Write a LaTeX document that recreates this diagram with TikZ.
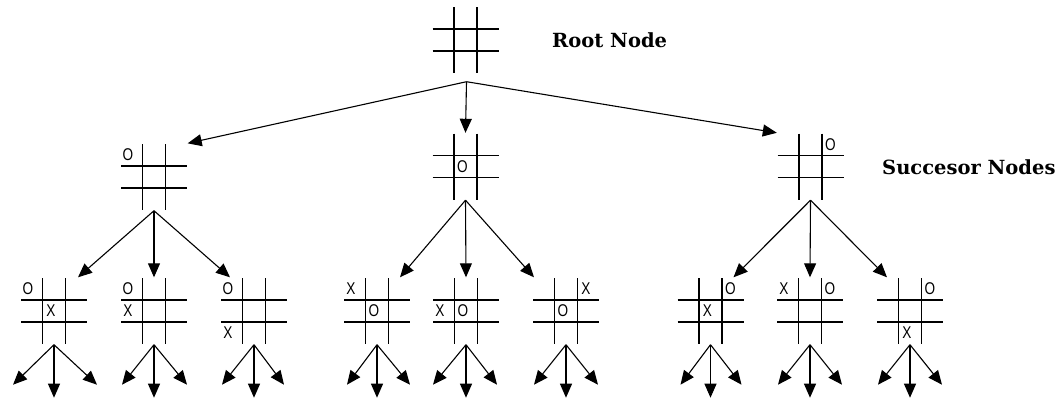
\documentclass[tikz,border=0pt]{standalone}
\usepackage{fontspec}
\setmainfont{DejaVu Serif}
\newfontfamily\markfont{Liberation Sans}
\usetikzlibrary{arrows.meta,calc}

% tic-tac-toe board lines around a named board node
\newcommand\tttgrid[1]{%
  \begin{scope}[shift={(#1.center)}]
    \draw[gridline] (-11.5,-33) -- (-11.5,33) (11.5,-33) -- (11.5,33)
                    (-33,-11) -- (33,-11) (-33,11) -- (33,11);
  \end{scope}}
% a symbol in a cell: name, board, column offset, row offset, symbol
\newcommand\tttmark[5]{\node[cellmark] (#1) at ($(#2.center)+(#3,#4)$) {#5};}
\def\cL{-26}\def\cC{-3}\def\cR{20}
\def\rT{-22}\def\rM{0}\def\rB{22}

\begin{document}
\begin{tikzpicture}[x=1pt,y=-1pt,
  board/.style={minimum width=67pt,minimum height=67pt,inner sep=0pt,draw=none},
  gridline/.style={line width=1.6pt,black},
  link/.style={line width=1.1pt,-{Triangle[length=14pt,width=12pt]}},
  cellmark/.style={font=\markfont\fontsize{17}{17}\selectfont,inner sep=0pt,xscale=0.8,transform shape},
  caption/.style={font=\bfseries\fontsize{19.5}{19.5}\selectfont,anchor=west,inner sep=0pt}
]
\useasboundingbox (0,0) rectangle (1057,400);

% boards
\node[board] (root) at (465.5,40) {};
\node[board] (l1a) at (154,177) {};
\node[board] (l1b) at (465.5,166.5) {};
\node[board] (l1c) at (810.5,166.5) {};
\foreach \n/\x in {a1/54,a2/154,a3/254,b1/377,b2/466,b3/566,c1/710.5,c2/810,c3/910}{
  \node[board] (\n) at (\x,311) {};
}
\foreach \n in {root,l1a,l1b,l1c,a1,a2,a3,b1,b2,b3,c1,c2,c3}{
  \tttgrid{\n}
}

% symbols
\tttmark{m1}{l1a}{\cL}{\rT}{O}
\tttmark{m2}{l1b}{\cC}{\rM}{O}
\tttmark{m3}{l1c}{\cR}{\rT}{O}
\tttmark{m4}{a1}{\cL}{\rT}{O}\tttmark{m5}{a1}{\cC}{\rM}{X}
\tttmark{m6}{a2}{\cL}{\rT}{O}\tttmark{m7}{a2}{\cL}{\rM}{X}
\tttmark{m8}{a3}{\cL}{\rT}{O}\tttmark{m9}{a3}{\cL}{\rB}{X}
\tttmark{m10}{b1}{\cL}{\rT}{X}\tttmark{m11}{b1}{\cC}{\rM}{O}
\tttmark{m12}{b2}{\cL}{\rM}{X}\tttmark{m13}{b2}{\cC}{\rM}{O}
\tttmark{m14}{b3}{\cC}{\rM}{O}\tttmark{m15}{b3}{\cR}{\rT}{X}
\tttmark{m16}{c1}{\cR}{\rT}{O}\tttmark{m17}{c1}{\cC}{\rM}{X}
\tttmark{m18}{c2}{\cL}{\rT}{X}\tttmark{m19}{c2}{\cR}{\rT}{O}
\tttmark{m20}{c3}{\cR}{\rT}{O}\tttmark{m21}{c3}{\cC}{\rB}{X}

% captions
\node[caption] (rootlabel) at (552,40) {Root Node};
\node[caption] (succlabel) at (882,167) {Succesor Nodes};

% root to successors
\coordinate (rootout) at ($(root.south)+(1,8)$);
\draw[link] (rootout) -- (l1a.north east);
\draw[link] (rootout) -- (l1b.north);
\draw[link] (rootout) -- (l1c.north west);

% successors to their children
\draw[link] (l1a.south) -- ($(a1.north)+(24,0)$);
\draw[link] (l1a.south) -- (a2.north);
\draw[link] (l1a.south) -- ($(a3.north)+(-24,0)$);
\draw[link] (l1b.south) -- ($(b1.north)+(23,0)$);
\draw[link] (l1b.south) -- (b2.north);
\draw[link] (l1b.south) -- ($(b3.north)+(-32,0)$);
\draw[link] (l1c.south) -- ($(c1.north)+(23,0)$);
\draw[link] (l1c.south) -- (c2.north);
\draw[link] (l1c.south) -- ($(c3.north)+(-23,0)$);

% next level, left open
\foreach \n/\dl/\dr in {a1/-41/43,a2/-32/33,a3/-32/30,b1/-30/33,b2/-33/31,b3/-32/32,c1/-30/31,c2/-32/32,c3/-32/32}{
  \coordinate (\n-l) at ($(\n.south)+(\dl,40)$);
  \coordinate (\n-m) at ($(\n.south)+(0,53)$);
  \coordinate (\n-r) at ($(\n.south)+(\dr,40)$);
  \draw[link] (\n.south) -- (\n-l);
  \draw[link] (\n.south) -- (\n-m);
  \draw[link] (\n.south) -- (\n-r);
}
\end{tikzpicture}
\end{document}
